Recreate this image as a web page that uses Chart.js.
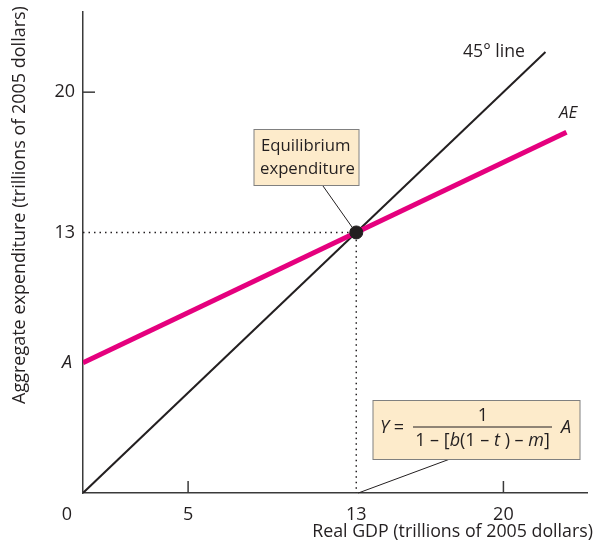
<!DOCTYPE html>
<html>
<head>
<meta charset="utf-8">
<script src="https://cdn.jsdelivr.net/npm/chart.js@4.4.1/dist/chart.umd.min.js"></script>
<style>
  html, body { margin: 0; background: #fff; }
  #wrap { width: 595px; height: 548px; position: relative; }
</style>
</head>
<body>
<div id="wrap"><canvas id="c"></canvas></div>
<script>
// values (trillions of 2005 dollars)
const xTicks = [0, 5, 13, 20];
const yTicks = [13, 20];
const line45X = [0, 22];
const line45Y = [0, 22];
const aeX = [0, 23];
const aeY = [6.5, 18];
const autonomous = 6.5;   // A, the AE intercept
const equilibrium = 13;
const axisMax = 24;

const INK = '#231f20';
const PINK = '#e5007e';
const FONT = '"Open Sans", Lato, sans-serif';

const pts = (xs, ys) => xs.map((x, i) => ({ x, y: ys[i] }));

// shrink/grow a string so it spans the width it has in the print
function fitFont(ctx, text, width, italic) {
  ctx.font = `${italic ? 'italic ' : ''}20px ${FONT}`;
  const size = 20 * width / ctx.measureText(text).width;
  ctx.font = `${italic ? 'italic ' : ''}${size}px ${FONT}`;
  return size;
}

function drawRich(ctx, pieces, x, y, size, align) {
  let w = 0;
  pieces.forEach(p => {
    ctx.font = `${p[1] ? 'italic ' : ''}${size}px ${FONT}`;
    w += ctx.measureText(p[0]).width;
  });
  let cx = align === 'center' ? x - w / 2 : x;
  ctx.textAlign = 'left';
  pieces.forEach(p => {
    ctx.font = `${p[1] ? 'italic ' : ''}${size}px ${FONT}`;
    ctx.fillText(p[0], cx, y);
    cx += ctx.measureText(p[0]).width;
  });
  return w;
}

const overlay = {
  id: 'overlay',
  afterDraw(chart) {
    const { ctx, scales: { x, y } } = chart;
    const x0 = x.getPixelForValue(0), y0 = y.getPixelForValue(0);
    ctx.save();
    ctx.fillStyle = INK;
    ctx.strokeStyle = '#3a3a3a';
    ctx.lineWidth = 1.5;

    // tick marks (inside the axes), skip the dotted equilibrium ones
    xTicks.filter(v => v !== 0 && v !== equilibrium).forEach(v => {
      const px = x.getPixelForValue(v);
      ctx.beginPath(); ctx.moveTo(px, y0); ctx.lineTo(px, y0 - 12); ctx.stroke();
    });
    yTicks.filter(v => v !== equilibrium).forEach(v => {
      const py = y.getPixelForValue(v);
      ctx.beginPath(); ctx.moveTo(x0, py); ctx.lineTo(x0 + 12, py); ctx.stroke();
    });

    // tick labels
    ctx.font = `18px ${FONT}`;
    ctx.textBaseline = 'middle';
    ctx.textAlign = 'center';
    xTicks.forEach(v => {
      const px = v === 0 ? x0 - 16 : x.getPixelForValue(v);
      ctx.fillText(String(v), px, y0 + 22);
    });
    ctx.textAlign = 'right';
    yTicks.forEach(v => ctx.fillText(String(v), x0 - 8, y.getPixelForValue(v)));
    ctx.font = `italic 18px ${FONT}`;
    ctx.fillText('A', x0 - 11, y.getPixelForValue(autonomous));

    // axis titles
    const xt = 'Real GDP (trillions of 2005 dollars)';
    fitFont(ctx, xt, 281);
    ctx.textAlign = 'right';
    ctx.fillText(xt, 593, 532);
    const yt = 'Aggregate expenditure (trillions of 2005 dollars)';
    ctx.save();
    ctx.translate(20, 205);
    ctx.rotate(-Math.PI / 2);
    ctx.textAlign = 'center';
    fitFont(ctx, yt, 398);
    ctx.fillText(yt, 0, 0);
    ctx.restore();

    // line labels
    ctx.textAlign = 'left';
    fitFont(ctx, '45\u00b0 line', 62);
    ctx.fillText('45\u00b0 line', 463, 52);
    ctx.font = `italic 17px ${FONT}`;
    ctx.fillText('AE', 559, 113);

    // equilibrium callout
    const ex = x.getPixelForValue(equilibrium), ey = y.getPixelForValue(equilibrium);
    ctx.lineWidth = 1;
    ctx.strokeStyle = INK;
    ctx.beginPath(); ctx.moveTo(323, 186); ctx.lineTo(ex - 4, ey - 5); ctx.stroke();
    ctx.fillStyle = '#fdebcb';
    ctx.fillRect(254, 129.5, 105, 56);
    ctx.strokeStyle = '#808080';
    ctx.strokeRect(254, 129.5, 105, 56);
    ctx.fillStyle = INK;
    ctx.textAlign = 'left';
    ctx.textBaseline = 'alphabetic';
    fitFont(ctx, 'expenditure', 95);
    ctx.fillText('Equilibrium', 261, 151);
    ctx.fillText('expenditure', 260, 174);

    // multiplier formula callout
    ctx.strokeStyle = INK;
    ctx.beginPath(); ctx.moveTo(450, 459); ctx.lineTo(ex + 2, y0); ctx.stroke();
    ctx.fillStyle = '#fdebcb';
    ctx.fillRect(373, 400.5, 207, 59);
    ctx.strokeStyle = '#808080';
    ctx.strokeRect(373, 400.5, 207, 59);
    ctx.fillStyle = INK;
    ctx.textBaseline = 'middle';
    drawRich(ctx, [['Y', true], [' =', false]], 380, 428, 18, 'left');
    ctx.strokeStyle = INK;
    ctx.lineWidth = 1;
    ctx.beginPath(); ctx.moveTo(413, 427); ctx.lineTo(552, 427); ctx.stroke();
    drawRich(ctx, [['1', false]], 483, 416, 18, 'center');
    drawRich(ctx, [['1 \u2013 [', false], ['b', true], ['(1 \u2013 ', false], ['t', true],
      [' ) \u2013 ', false], ['m', true], [']', false]], 482.5, 441, 18, 'center');
    drawRich(ctx, [['A', true]], 561, 428, 18, 'left');

    ctx.restore();
  }
};

new Chart(document.getElementById('c'), {
  type: 'scatter',
  data: {
    datasets: [
      {
        label: 'Equilibrium',
        data: [{ x: equilibrium, y: equilibrium }],
        pointRadius: 6.5,
        pointBackgroundColor: INK,
        pointBorderColor: INK,
      },
      {
        label: 'AE',
        data: pts(aeX, aeY),
        showLine: true,
        borderColor: PINK,
        borderWidth: 5,
        pointRadius: 0,
      },
      {
        label: '45° line',
        data: pts(line45X, line45Y),
        showLine: true,
        borderColor: INK,
        borderWidth: 2,
        pointRadius: 0,
      },
      {
        label: 'guides',
        data: [{ x: 0, y: equilibrium }, { x: equilibrium, y: equilibrium }, { x: equilibrium, y: 0 }],
        showLine: true,
        borderColor: INK,
        borderWidth: 1.5,
        borderDash: [1.5, 4],
        pointRadius: 0,
      },
    ],
  },
  options: {
    responsive: true,
    maintainAspectRatio: false,
    animation: false,
    layout: { padding: { top: 12, right: 5, left: 0, bottom: 0 } },
    plugins: { legend: { display: false }, tooltip: { enabled: false } },
    scales: {
      x: {
        min: 0, max: axisMax,
        grid: { display: false },
        ticks: { display: false },
        border: { display: true, color: '#3a3a3a', width: 1.5 },
        afterFit: s => { s.height = 55; },
      },
      y: {
        min: 0, max: axisMax,
        grid: { display: false },
        ticks: { display: false },
        border: { display: true, color: '#3a3a3a', width: 1.5 },
        afterFit: s => { s.width = 83; },
      },
    },
  },
  plugins: [overlay],
});
</script>
</body>
</html>
